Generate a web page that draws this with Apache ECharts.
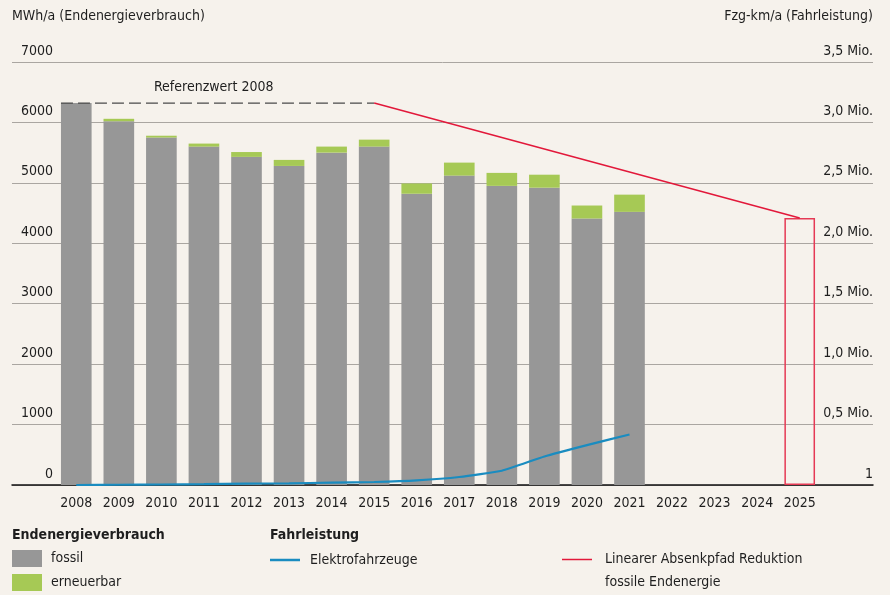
<!DOCTYPE html>
<html>
<head>
<meta charset="utf-8">
<script src="https://cdn.jsdelivr.net/npm/echarts@6/dist/echarts.min.js"></script>
<style>
  html, body { margin: 0; padding: 0; background: #f6f2ec; }
  #chart { width: 890px; height: 595px; }
</style>
</head>
<body>
<div id="chart"></div>
<script>
// Jahre auf der Kategorienachse
const years = ['2008','2009','2010','2011','2012','2013','2014','2015','2016','2017','2018','2019','2020','2021','2022','2023','2024','2025'];

// Endenergieverbrauch in MWh/a
const fossil     = [6320, 6020, 5750, 5600, 5430, 5280, 5500, 5600, 4820, 5120, 4950, 4920, 4410, 4520, null, null, null, null];
const erneuerbar = [0,     40,   30,   50,   80,  100,  100,  115,  170,  215,  215,  215,  215,  285, null, null, null, null];

// Fahrleistung Elektrofahrzeuge in Fzg-km/a
const elektro = [0, 2000, 4000, 7000, 11000, 14000, 19000, 25000, 38000, 66000, 118000, 236000, 330000, 418000];

// Referenzwert 2008 und Zielwert 2025 (fossile Endenergie)
const referenz2008 = 6320;
const ziel2025 = 4420;

// Achsenbeschriftungen
const leftTicks  = ['0', '1000', '2000', '3000', '4000', '5000', '6000', '7000'];
const rightTicks = ['1', '0,5 Mio.', '1,0 Mio.', '1,5 Mio.', '2,0 Mio.', '2,5 Mio.', '3,0 Mio.', '3,5 Mio.'];

const FONT = "'DejaVu Sans Condensed', 'Liberation Sans Narrow', sans-serif";
const TXT = '#1e1e1e';
const GRAY = '#979797';
const GREEN = '#a6c955';
const BLUE = '#1a8cc0';
const RED = '#e2183a';

const idx2025 = years.indexOf('2025');
const idx2015 = years.indexOf('2015');
const zielBox = years.map((y, i) => (i === idx2025 ? ziel2025 : null));
const pfadName = 'Linearer Absenkpfad Reduktion\nfossile Endenergie';

const chart = echarts.init(document.getElementById('chart'), null, { renderer: 'canvas' });

chart.setOption({
  backgroundColor: '#f6f2ec',
  animation: false,
  textStyle: { fontFamily: FONT, color: TXT },
  grid: [
    { left: 12, right: 17, top: 62, bottom: 110 },     // Rahmen mit Hilfslinien
    { left: 55, right: 69, top: 62, bottom: 110 }      // Balkenbereich
  ],
  xAxis: [
    { gridIndex: 0, type: 'value', min: 0, max: 1,
      axisLine: { show: true, lineStyle: { color: '#111', width: 1.5 } },
      axisTick: { show: false }, axisLabel: { show: false }, splitLine: { show: false } },
    { gridIndex: 1, type: 'category', data: years,
      axisLine: { show: false }, axisTick: { show: false },
      axisLabel: { fontSize: 14, color: TXT, margin: 11, fontFamily: FONT } },
    { gridIndex: 1, type: 'value', min: -0.5, max: years.length - 0.5, show: false }
  ],
  yAxis: [
    { gridIndex: 0, type: 'value', min: 0, max: 7000, interval: 1000, position: 'left',
      name: 'MWh/a (Endenergieverbrauch)', nameLocation: 'end', nameGap: 39,
      nameTextStyle: { align: 'left', fontSize: 14, color: TXT, fontFamily: FONT },
      axisLine: { show: false }, axisTick: { show: false },
      axisLabel: { inside: true, align: 'right', margin: 41, verticalAlign: 'bottom',
        padding: [0, 0, 4, 0], fontSize: 14, color: TXT, fontFamily: FONT,
        formatter: (v) => leftTicks[Math.round(v / 1000)] },
      splitLine: { show: true, lineStyle: { color: '#aaa6a1', width: 1 } } },
    { gridIndex: 0, type: 'value', min: 0, max: 3500000, interval: 500000, position: 'right',
      name: 'Fzg-km/a (Fahrleistung)', nameLocation: 'end', nameGap: 39,
      nameTextStyle: { align: 'right', fontSize: 14, color: TXT, fontFamily: FONT },
      axisLine: { show: false }, axisTick: { show: false },
      axisLabel: { inside: true, margin: 0, verticalAlign: 'bottom',
        padding: [0, 0, 4, 0], fontSize: 14, color: TXT, fontFamily: FONT,
        formatter: (v) => rightTicks[Math.round(v / 500000)] },
      splitLine: { show: false } },
    { gridIndex: 1, type: 'value', min: 0, max: 7000, interval: 1000, show: false },
    { gridIndex: 1, type: 'value', min: 0, max: 3500000, interval: 500000, show: false }
  ],
  legend: [
    { orient: 'vertical', left: 12, top: 550, padding: 0, itemWidth: 30, itemHeight: 17, itemGap: 7,
      icon: 'rect', data: ['fossil', 'erneuerbar'], selectedMode: false,
      textStyle: { fontSize: 14, color: TXT, fontFamily: FONT, padding: [2, 0, 0, 4] } },
    { left: 270, top: 553, padding: 0, itemWidth: 30, itemHeight: 2.5, icon: 'rect', selectedMode: false,
      data: ['Elektrofahrzeuge'],
      textStyle: { fontSize: 14, color: TXT, fontFamily: FONT, padding: [0, 0, 0, 5] } },
    { left: 562, top: 525, padding: 0, itemWidth: 30, itemHeight: 1.5, icon: 'rect', selectedMode: false,
      data: [pfadName],
      // leere erste Zeile, damit die Linie neben der ersten Textzeile steht
      formatter: (name) => '\n' + name,
      textStyle: { fontSize: 14, color: TXT, fontFamily: FONT, lineHeight: 23,
        padding: [0, 0, 0, 8] } }
  ],
  graphic: [
    { type: 'text', left: 12, top: 528,
      style: { text: 'Endenergieverbrauch', font: "bold 14px " + FONT, fill: TXT } },
    { type: 'text', left: 270, top: 528,
      style: { text: 'Fahrleistung', font: "bold 14px " + FONT, fill: TXT } },
    { type: 'text', left: 154, top: 80,
      style: { text: 'Referenzwert 2008', font: "14px " + FONT, fill: TXT } }
  ],
  series: [
    { name: 'fossil', type: 'bar', xAxisIndex: 1, yAxisIndex: 2, stack: 'ev',
      barWidth: '72%', data: fossil, itemStyle: { color: GRAY }, z: 2 },
    { name: 'erneuerbar', type: 'bar', xAxisIndex: 1, yAxisIndex: 2, stack: 'ev',
      barWidth: '72%', data: erneuerbar, itemStyle: { color: GREEN }, z: 2 },
    { name: 'Zielwert 2025', type: 'bar', xAxisIndex: 1, yAxisIndex: 2,
      barWidth: '72%', barGap: '-100%', data: zielBox,
      itemStyle: { color: 'rgba(0,0,0,0)', borderColor: '#e53a55', borderWidth: 1.5 }, z: 3 },
    { name: 'Referenzwert 2008', type: 'line', xAxisIndex: 2, yAxisIndex: 2,
      data: [[-0.36, referenz2008], [idx2015, referenz2008]], symbol: 'none',
      lineStyle: { color: '#4a4a4a', width: 1.2, type: [12, 5] }, z: 4 },
    { name: pfadName, type: 'line',
      xAxisIndex: 2, yAxisIndex: 2,
      data: [[idx2015, referenz2008], [idx2025, ziel2025]], symbol: 'none',
      itemStyle: { color: RED }, lineStyle: { color: RED, width: 1.5 }, z: 4 },
    { name: 'Elektrofahrzeuge', type: 'line', xAxisIndex: 1, yAxisIndex: 3,
      data: elektro, symbol: 'none', smooth: 0.15,
      itemStyle: { color: BLUE }, lineStyle: { color: BLUE, width: 2.2 }, z: 5 }
  ]
});
</script>
</body>
</html>
